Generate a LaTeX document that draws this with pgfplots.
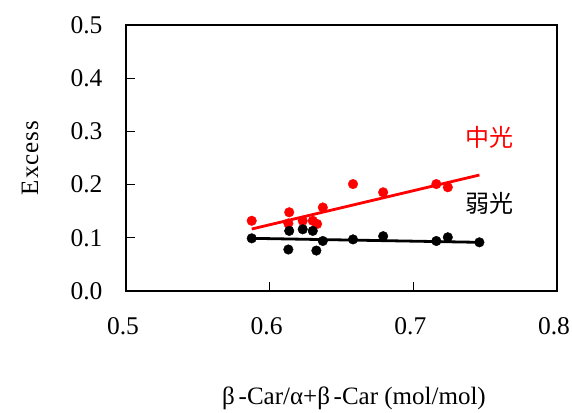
\documentclass[border=0pt]{standalone}
\usepackage{pgfplots}
\pgfplotsset{compat=1.18}
\usepackage{fontspec}
\setmainfont{Liberation Serif}
\newfontfamily\cjk{Noto Sans CJK SC}
\pgfplotstableread{
x y
0.5875 0.132
0.6136 0.148
0.6130 0.127
0.6230 0.132
0.6300 0.132
0.6330 0.126
0.6370 0.157
0.6580 0.201
0.6790 0.1855
0.7160 0.201
0.7240 0.195
}\redtab
\pgfplotstableread{
x y
0.5875 0.099
0.6136 0.113
0.6130 0.078
0.6230 0.116
0.6300 0.113
0.6325 0.076
0.6370 0.094
0.6580 0.097
0.6790 0.103
0.7160 0.094
0.7240 0.101
0.7460 0.0915
}\blacktab
\begin{document}
\begin{tikzpicture}
\useasboundingbox (-126pt,-121pt) rectangle (446pt,291pt);
\begin{axis}[
  at={(0,0)}, anchor=south west,
  scale only axis, width=431pt, height=266pt,
  xmin=0.5, xmax=0.8, ymin=0, ymax=0.5,
  xtick={0.5,0.6,0.7,0.8},
  ytick={0,0.1,0.2,0.3,0.4,0.5},
  tick align=inside, tick pos=left,
  major tick length=9pt,
  axis line style={line width=1.5pt},
  tick style={line width=1.2pt, black},
  every tick label/.append style={font=\fontsize{25.5}{30}\selectfont},
  xticklabel style={yshift=-23pt, xshift=-3pt},
  yticklabel style={xshift=-20pt},
  /pgf/number format/.cd, fixed, fixed zerofill, precision=1, assume math mode=true,
  /pgfplots/.cd,
  clip=false,
]
\addplot[only marks, mark=*, mark size=4.8pt, red, mark options={draw=red, fill=red}] table[x=x,y=y] {\redtab};
\addplot[only marks, mark=*, mark size=4.8pt, black] table[x=x,y=y] {\blacktab};
\addplot[red, line width=2.8pt] coordinates {(0.5875,0.1165) (0.746,0.218)};
\addplot[black, line width=2.8pt] coordinates {(0.5875,0.099) (0.746,0.0915)};
\node[red, font=\cjk\fontsize{24}{28}\selectfont] at (axis cs:0.7533,0.2895) {中光};
\node[black, font=\cjk\fontsize{24}{28}\selectfont] at (axis cs:0.7533,0.1654) {弱光};
\end{axis}
\node[rotate=90, font=\fontsize{25}{30}\selectfont] at (-96pt,133pt) {\addfontfeatures{LetterSpace=4}Excess};
\node[font=\fontsize{25}{30}\selectfont] at (228pt,-107pt) {β\kern0.15em-Car/α+β\kern0.15em-Car (mol/mol)};
\end{tikzpicture}
\end{document}
